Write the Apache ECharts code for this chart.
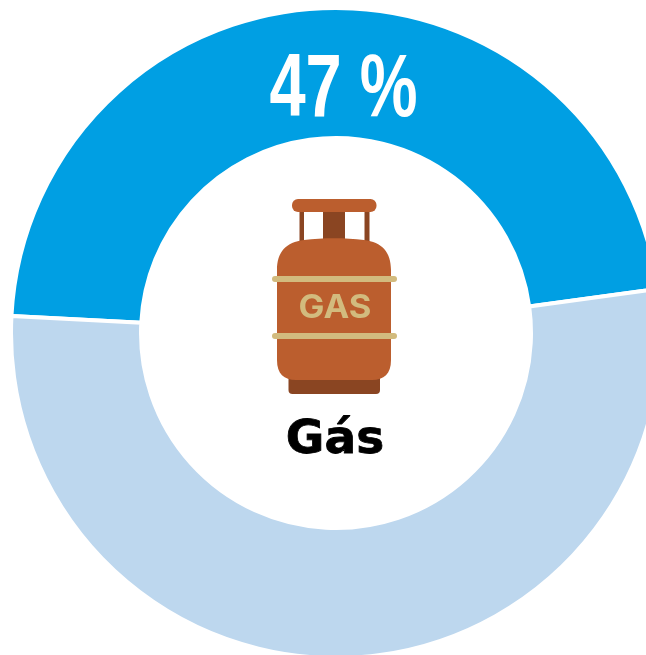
<!DOCTYPE html>
<html>
<head>
<meta charset="utf-8">
<style>html,body{margin:0;padding:0;background:#fff;overflow:hidden}#c{width:646px;height:655px}</style>
<script src="https://cdn.jsdelivr.net/npm/echarts@6/dist/echarts.min.js"></script>
</head>
<body>
<div id="c"></div>
<script>
const categories = ['Gás', 'Outros'];
const seriesValues = [47, 53];
const sliceColors = ['#009FE3', '#BDD7EE'];
const centerLabel = 'Gás';
const valueLabel = seriesValues[0] + ' %';

echarts.graphic.registerShape('cylinderBody', echarts.graphic.extendShape({
  shape: {},
  buildPath(ctx) {
    ctx.moveTo(277, 270);
    ctx.bezierCurveTo(277, 252, 286, 242, 304, 240);
    ctx.bezierCurveTo(323, 237.5, 345, 237.5, 364, 240);
    ctx.bezierCurveTo(382, 242, 391, 252, 391, 270);
    ctx.lineTo(391, 360);
    ctx.bezierCurveTo(391, 374, 384, 380, 372, 380);
    ctx.lineTo(296, 380);
    ctx.bezierCurveTo(284, 380, 277, 374, 277, 360);
    ctx.closePath();
  }
}));

const chart = echarts.init(document.getElementById('c'), null, {renderer: 'canvas'});
const dark = '#8A4522', body = '#BB5E2E', tan = '#D2BB7E';
chart.setOption({
  animation: false,
  backgroundColor: '#fff',
  series: [{
    type: 'pie',
    center: [336, 333],
    radius: [195, 325],
    startAngle: 177,
    clockwise: true,
    silent: true,
    label: {show: false},
    labelLine: {show: false},
    itemStyle: {borderColor: '#fff', borderWidth: 4},
    data: categories.map((name, i) => ({name, value: seriesValues[i], itemStyle: {color: sliceColors[i]}}))
  }],
  graphic: [
    {type: 'text', z: 10, x: 343.5, y: 91, scaleX: 0.73, scaleY: 1, style: {
      text: valueLabel, fill: '#fff', font: 'bold 89px "Liberation Sans"', align: 'center', verticalAlign: 'middle'}},
    {type: 'rect', z: 10, shape: {x: 288.5, y: 372, width: 91.5, height: 22, r: [0, 0, 4, 4]}, style: {fill: dark}},
    {type: 'rect', z: 10, shape: {x: 299.5, y: 210, width: 4.5, height: 34}, style: {fill: dark}},
    {type: 'rect', z: 10, shape: {x: 364.5, y: 210, width: 5, height: 34}, style: {fill: dark}},
    {type: 'rect', z: 10, shape: {x: 323, y: 210, width: 22, height: 32}, style: {fill: dark}},
    {type: 'rect', z: 10, shape: {x: 292, y: 199, width: 84.5, height: 13, r: 6}, style: {fill: body}},
    {type: 'cylinderBody', z: 10, shape: {}, style: {fill: body}},
    {type: 'rect', z: 11, shape: {x: 272, y: 276, width: 125, height: 6, r: 3}, style: {fill: tan}},
    {type: 'rect', z: 11, shape: {x: 272, y: 333, width: 125, height: 6, r: 3}, style: {fill: tan}},
    {type: 'text', z: 11, x: 335, y: 308, scaleX: 1.08, style: {
      text: 'GAS', fill: tan, font: 'bold 32px Inter', align: 'center', verticalAlign: 'middle'}},
    {type: 'text', z: 10, x: 335, y: 441, style: {
      text: centerLabel, fill: '#000', stroke: '#000', lineWidth: 0.8, font: 'bold 47px "DejaVu Sans"', align: 'center', verticalAlign: 'middle'}}
  ]
});
</script>
</body>
</html>
